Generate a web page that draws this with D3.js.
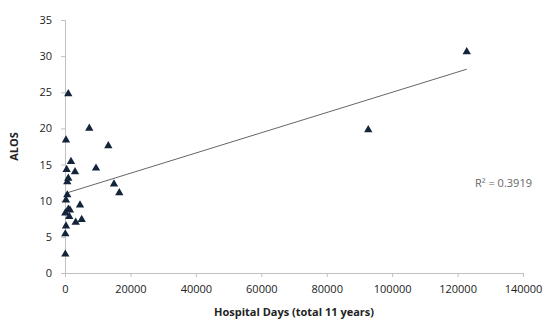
<!DOCTYPE html>
<html>
<head>
<meta charset="utf-8">
<script src="https://cdn.jsdelivr.net/npm/d3@7"></script>
<style>
  body { margin: 0; background: #fff; }
  text { font-family: "Open Sans", "Liberation Sans", sans-serif; }
</style>
</head>
<body>
<div id="chart"></div>
<script>
// hospital days (total 11 years) and average length of stay
const hospitalDays = [1000, 300, 7430, 13240, 1830, 500, 3060, 9480, 1000, 700,
  14980, 16600, 700, 300, 4590, 1000, 1500, 100, 1300, 3270, 5100, 300, 100, 100,
  92700, 122800]
const alos = [24.8, 18.4, 20.0, 17.6, 15.4, 14.3, 14.0, 14.5, 13.1, 12.6,
  12.3, 11.1, 10.8, 10.1, 9.4, 8.8, 8.7, 8.3, 7.8, 7.0, 7.4, 6.5, 5.4, 2.6,
  19.8, 30.6]

const xTicks = [0, 20000, 40000, 60000, 80000, 100000, 120000, 140000]
const yTicks = [0, 5, 10, 15, 20, 25, 30, 35]

// linear trendline as shown on the chart
const trendIntercept = 11.0
const trendSlope = 0.00014
const rSquared = "R² = 0.3919"

const W = 550, H = 328
const MARGIN = {TOP: 20, BOTTOM: 55, LEFT: 65, RIGHT: 27}

const svg = d3.select("#chart").append("svg")
  .attr("width", W)
  .attr("height", H)

const x = d3.scaleLinear().domain([0, 140000]).range([MARGIN.LEFT, W - MARGIN.RIGHT])
const y = d3.scaleLinear().domain([0, 35]).range([H - MARGIN.BOTTOM, MARGIN.TOP])

// axes
svg.append("g")
  .attr("transform", `translate(0, ${y(0)})`)
  .call(d3.axisBottom(x).tickValues(xTicks).tickSize(4).tickPadding(8).tickFormat(d3.format("d")))
svg.append("g")
  .attr("transform", `translate(${x(0)}, 0)`)
  .call(d3.axisLeft(y).tickValues(yTicks).tickSize(4).tickPadding(9))

svg.selectAll(".domain, .tick line").attr("stroke", "#c0c0c0")
svg.selectAll(".tick text")
  .attr("font-size", 11)
  .attr("fill", "#222")
  .style("font-family", "'Open Sans', sans-serif")

// trendline
const xMin = d3.min(hospitalDays), xMax = d3.max(hospitalDays)
svg.append("line")
  .attr("x1", x(xMin)).attr("y1", y(trendIntercept + trendSlope * xMin))
  .attr("x2", x(xMax)).attr("y2", y(trendIntercept + trendSlope * xMax))
  .attr("stroke", "#666")
  .attr("stroke-width", 1)

// points
const pts = hospitalDays.map((d, i) => ({hd: d, alos: alos[i]}))
svg.selectAll("path.pt")
  .data(pts)
  .enter().append("path")
  .attr("class", "pt")
  .attr("d", d3.symbol().type(d3.symbolTriangle).size(30))
  .attr("transform", d => `translate(${x(d.hd)}, ${y(d.alos)})`)
  .attr("fill", "#14243a")

// R squared label
svg.append("text")
  .attr("x", 475)
  .attr("y", 187)
  .attr("font-size", 11)
  .attr("fill", "#666")
  .text(rSquared)

// axis titles
svg.append("text")
  .attr("x", (x(0) + x(140000)) / 2)
  .attr("y", 316)
  .attr("text-anchor", "middle")
  .attr("font-size", 11)
  .attr("font-weight", "bold")
  .attr("fill", "#222")
  .text("Hospital Days (total 11 years)")

svg.append("text")
  .attr("transform", `translate(18, ${(y(0) + y(35)) / 2}) rotate(-90)`)
  .attr("text-anchor", "middle")
  .attr("font-size", 11)
  .attr("font-weight", "bold")
  .attr("fill", "#222")
  .text("ALOS")
</script>
</body>
</html>
